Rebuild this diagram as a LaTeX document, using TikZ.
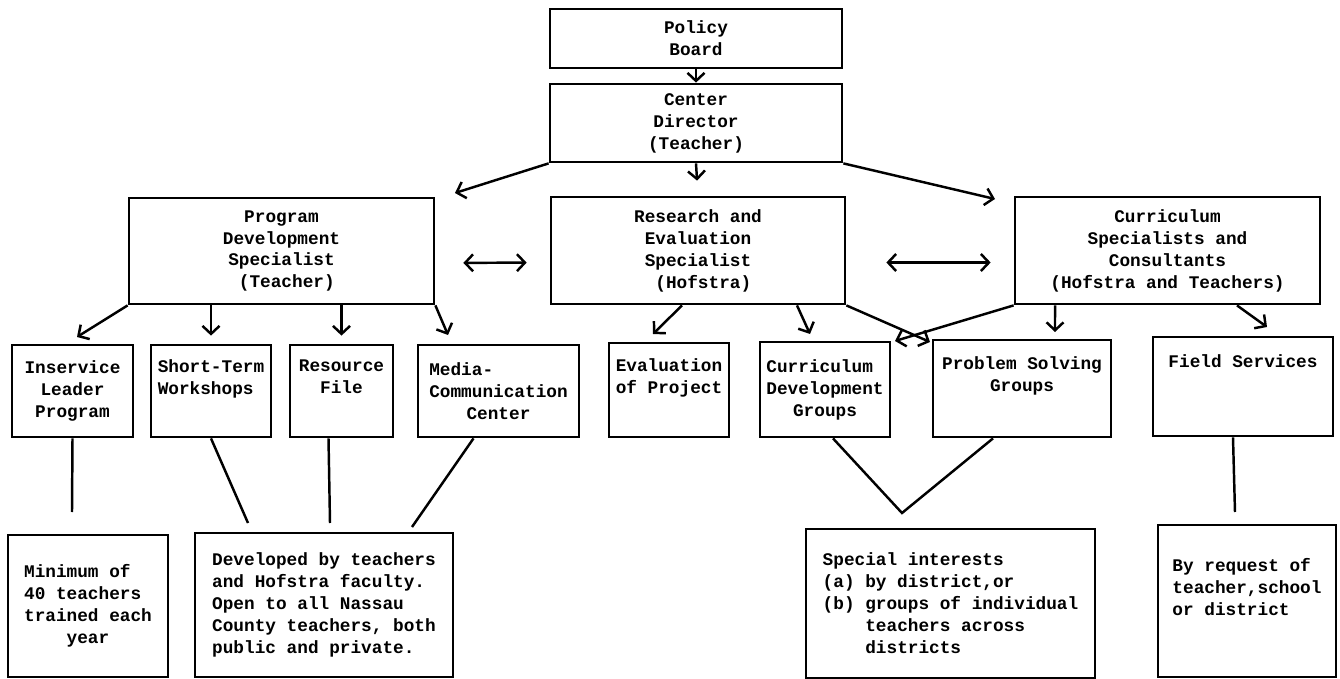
\documentclass[tikz,border=0pt]{standalone}
\usepackage{fontspec}
\setmonofont{Liberation Mono}
\usepackage{tikz}
\usetikzlibrary{arrows.meta}

\begin{document}
\begin{tikzpicture}[x=0.02cm, y=-0.02cm, line width=1.4pt,
    >={Straight Barb[length=1.6mm,width=3.4mm]},
    box/.style={draw, line width=1.6pt, align=center, inner sep=2pt,
      font=\ttfamily\bfseries\fontsize{10.1}{12.5}\selectfont},
    note/.style={box, align=left}]
        \useasboundingbox (0,0) rectangle (1340,679);

        \node[box, minimum width=5.84cm, minimum height=1.18cm] (PB) at (696,38.5) {Policy\\Board};
        \node[box, minimum width=5.84cm, minimum height=1.56cm] (CD) at (696,123) {Center\\Director\\(Teacher)};

        \node[box, minimum width=6.1cm, minimum height=2.12cm] (PDS) at (281.5,251)
              {Program\\Development\\Specialist\\\hphantom{x}(Teacher)};
        \node[box, minimum width=5.88cm, minimum height=2.14cm] (RES) at (698,250.5)
              {Research and\\Evaluation\\Specialist\\\hphantom{x}(Hofstra)};
        \node[box, minimum width=6.1cm, minimum height=2.14cm] (CSC) at (1167.5,250.5)
              {Curriculum\\Specialists and\\Consultants\\(Hofstra and Teachers)};

        \node[box, minimum width=2.42cm, minimum height=1.84cm] (ILP) at (72.5,391) {Inservice\\Leader\\Program};
        \node[box, minimum width=2.4cm, minimum height=1.84cm] (STW) at (211,391) {Short-Term\\Workshops\hphantom{x}\\\strut};
        \node[box, minimum width=2.06cm, minimum height=1.84cm] (RF) at (341.5,391) {Resource\\File\\\strut};
        \node[box, minimum width=3.22cm, minimum height=1.84cm] (MCC) at (498.5,391)
              {Media-\hphantom{xxxxxxx}\\Communication\\Center};
        \node[box, minimum width=2.4cm, minimum height=1.88cm] (EP) at (669,390) {Evaluation\\of Project\\\strut};
        \node[box, minimum width=2.6cm, minimum height=1.9cm] (CDG) at (825,389.5)
              {Curriculum\hphantom{x}\\Development\\Groups};
        \node[box, minimum width=3.56cm, minimum height=1.94cm] (PSG) at (1022,388.5) {Problem Solving\\Groups\\\strut};
        \node[box, minimum width=3.6cm, minimum height=1.98cm] (FS) at (1243,386.5) {Field Services\\\strut\\\strut};

        \node[note, minimum width=3.2cm, minimum height=2.84cm] (MIN) at (88,606)
              {Minimum of\\40 teachers\\trained each\\\hphantom{xxxx}year};
        \node[note, minimum width=5.16cm, minimum height=2.88cm] (DEV) at (324,605)
              {Developed by teachers\\and Hofstra faculty.\\Open to all Nassau\\County teachers, both\\public and private.};
        \node[note, minimum width=5.78cm, minimum height=2.98cm] (SPI) at (950.5,603.5)
              {Special interests\\(a) by district,or\\(b) groups of individual\\\hphantom{(b) }teachers across\\\hphantom{(b) }districts};
        \node[note, minimum width=3.56cm, minimum height=3.04cm] (BRQ) at (1247,601)
              {By request of\\teacher,school\\or district\\\strut};

        \coordinate (tPDS) at (455,193);
        \coordinate (tCSC) at (995,199);
        \draw[->] (PB.south) -- (CD.north);
        \draw[->, shorten >=0.3cm] (CD.south) -- (RES.north);
        \draw[->] (CD.south west) -- (tPDS);
        \draw[->] (CD.south east) -- (tCSC);

        \draw[<->, shorten <=0.56cm, shorten >=0.46cm] ([yshift=-0.24cm]PDS.east) -- ([yshift=-0.24cm]RES.west);
        \draw[<->, shorten <=0.8cm, shorten >=0.46cm] ([yshift=-0.24cm]RES.east) -- ([yshift=-0.24cm]CSC.west);

        \coordinate (tILP) at (77,337);
        \coordinate (tMCC) at (448,335);
        \draw[->] (PDS.south west) -- (tILP);
        \draw[->, shorten >=0.16cm] (PDS.south -| STW.north) -- (STW.north);
        \draw[->, shorten >=0.16cm] (PDS.south -| RF.north) -- (RF.north);
        \draw[->] (PDS.south east) -- (tMCC);

        \coordinate (tEP) at (653,334);
        \coordinate (tCDG) at (810,334);
        \coordinate (tPSG) at (930,342);
        \draw[->] ([xshift=-0.32cm]RES.south) -- (tEP);
        \draw[->] ([xshift=1.98cm]RES.south) -- (tCDG);
        \draw[->] (RES.south east) -- (tPSG);

        \coordinate (uCDG) at (895,341);
        \coordinate (uPSG) at (1055,332);
        \coordinate (tFS) at (1267,327);
        \draw[->] (CSC.south west) -- (uCDG);
        \draw[->] ([xshift=-2.25cm]CSC.south) -- (uPSG);
        \draw[->] ([xshift=1.39cm]CSC.south) -- (tFS);

        \coordinate (eILP) at (72,512);
        \coordinate (eSTW) at (248,523);
        \coordinate (eRF) at (330,523);
        \coordinate (eMCC) at (412,527);
        \coordinate (apex) at (902,513);
        \coordinate (eFS) at (1235,512);
        \draw (ILP.south) -- (eILP);
        \draw (STW.south) -- (eSTW);
        \draw ([xshift=-0.26cm]RF.south) -- (eRF);
        \draw ([xshift=-0.5cm]MCC.south) -- (eMCC);
        \draw ([xshift=0.16cm]CDG.south) -- (apex) -- ([xshift=-0.58cm]PSG.south);
        \draw ([xshift=-0.2cm]FS.south) -- (eFS);
      \end{tikzpicture}
\end{document}
